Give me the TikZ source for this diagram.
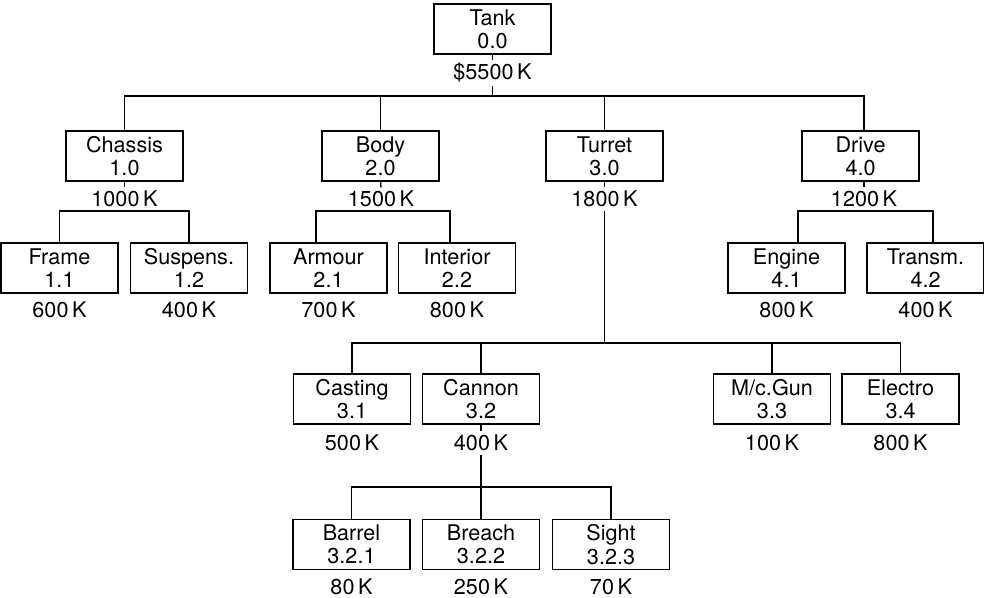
\documentclass[tikz,border=0pt]{standalone}
\usepackage{fontspec}
\setmainfont{TeX Gyre Heros}

\begin{document}
\begin{tikzpicture}[x=0.5pt,y=-0.5pt,line width=0.65pt,
  part/.style={draw,minimum width=58.5pt,minimum height=25pt,inner sep=0pt,
    align=center,font=\fontsize{10.8}{11.6}\selectfont},
  cost/.style={inner sep=1.5pt,font=\fontsize{10.8}{11.6}\selectfont}]
  \useasboundingbox (0,0) rectangle (984,598);
  % top
  \node[part] (tank) at (492.5,29) {Tank\\0.0};
  \node[cost] (tankc) at (492.5,73) {\$5500\,K};
  \coordinate (bar0) at (492.5,96);
  % first level
  \node[part] (chassis) at (124.5,156) {Chassis\\1.0};
  \node[part] (body) at (380.5,156) {Body\\2.0};
  \node[part] (turret) at (604.5,156) {Turret\\3.0};
  \node[part] (drive) at (860.5,156) {Drive\\4.0};
  \node[cost] (chassisc) at (124.5,199) {1000\,K};
  \node[cost] (bodyc) at (381,199) {1500\,K};
  \node[cost] (turretc) at (604.5,199) {1800\,K};
  \node[cost] (drivec) at (864,199) {1200\,K};
  \draw (tank) -- (tankc);
  \draw (tankc) -- (bar0);
  \draw (chassis) |- (bar0) -| ([xshift=1.75pt]drive.north);
  \draw (body) -- (body |- bar0);
  \draw (turret) -- (turret |- bar0);
  % second level
  \node[part] (frame) at (59.5,268) {Frame\\1.1};
  \node[part] (suspens) at (189,268) {Suspens.\\1.2};
  \node[part] (armour) at (328.5,268) {Armour\\2.1};
  \node[part] (interior) at (457,268) {Interior\\2.2};
  \node[part] (engine) at (786.5,268) {Engine\\4.1};
  \node[part] (transm) at (925.5,268) {Transm.\\4.2};
  \node[cost] (framec) at (59.5,310) {600\,K};
  \node[cost] (suspensc) at (189,310) {400\,K};
  \node[cost] (armourc) at (328.5,310) {700\,K};
  \node[cost] (interiorc) at (457,310) {800\,K};
  \node[cost] (enginec) at (786.5,310) {800\,K};
  \node[cost] (transmc) at (925.5,310) {400\,K};
  \coordinate (bar1) at (124.5,211);
  \coordinate (bar2) at (381,211);
  \coordinate (bar4) at (864,211);
  \draw (chassis) -- (chassisc);
  \draw (chassisc) -- (bar1);
  \draw (frame) |- (bar1) -| (suspens);
  \draw (body) -- (bodyc);
  \draw (bodyc) -- (bar2);
  \draw ([xshift=-6.25pt]armour.north) |- (bar2) -| ([xshift=-3.5pt]interior.north);
  \draw ([xshift=1.75pt]drive.south) -- (drivec);
  \draw (drivec) -- (bar4);
  \draw ([xshift=5.75pt]engine.north) |- (bar4) -| ([xshift=3.75pt]transm.north);
  % turret parts
  \node[part] (casting) at (352,399) {Casting\\3.1};
  \node[part] (cannon) at (481,399) {Cannon\\3.2};
  \node[part] (mcgun) at (772,399) {M/c.Gun\\3.3};
  \node[part] (electro) at (900.5,399) {Electro\\3.4};
  \node[cost] (castingc) at (352,443) {500\,K};
  \node[cost] (cannonc) at (481,443) {400\,K};
  \node[cost] (mcgunc) at (772,443) {100\,K};
  \node[cost] (electroc) at (900.5,443) {800\,K};
  \coordinate (bar3) at (604.5,343);
  \draw (turret) -- (turretc);
  \draw (turretc) -- (bar3);
  \draw (casting) |- (bar3) -| (electro);
  \draw (cannon) -- (cannon |- bar3);
  \draw (mcgun) -- (mcgun |- bar3);
  % cannon parts
  \node[part] (barrel) at (351.5,544.5) {Barrel\\3.2.1};
  \node[part] (breach) at (481,544.5) {Breach\\3.2.2};
  \node[part] (sight) at (611,544.5) {Sight\\3.2.3};
  \node[cost] (barrelc) at (351.5,587) {80\,K};
  \node[cost] (breachc) at (481,587) {250\,K};
  \node[cost] (sightc) at (611,587) {70\,K};
  \coordinate (bar5) at (481,487);
  \draw (cannon) -- (cannonc);
  \draw (cannonc) -- (bar5);
  \draw (barrel) |- (bar5) -| (sight);
  \draw (breach) -- (bar5);
\end{tikzpicture}
\end{document}
